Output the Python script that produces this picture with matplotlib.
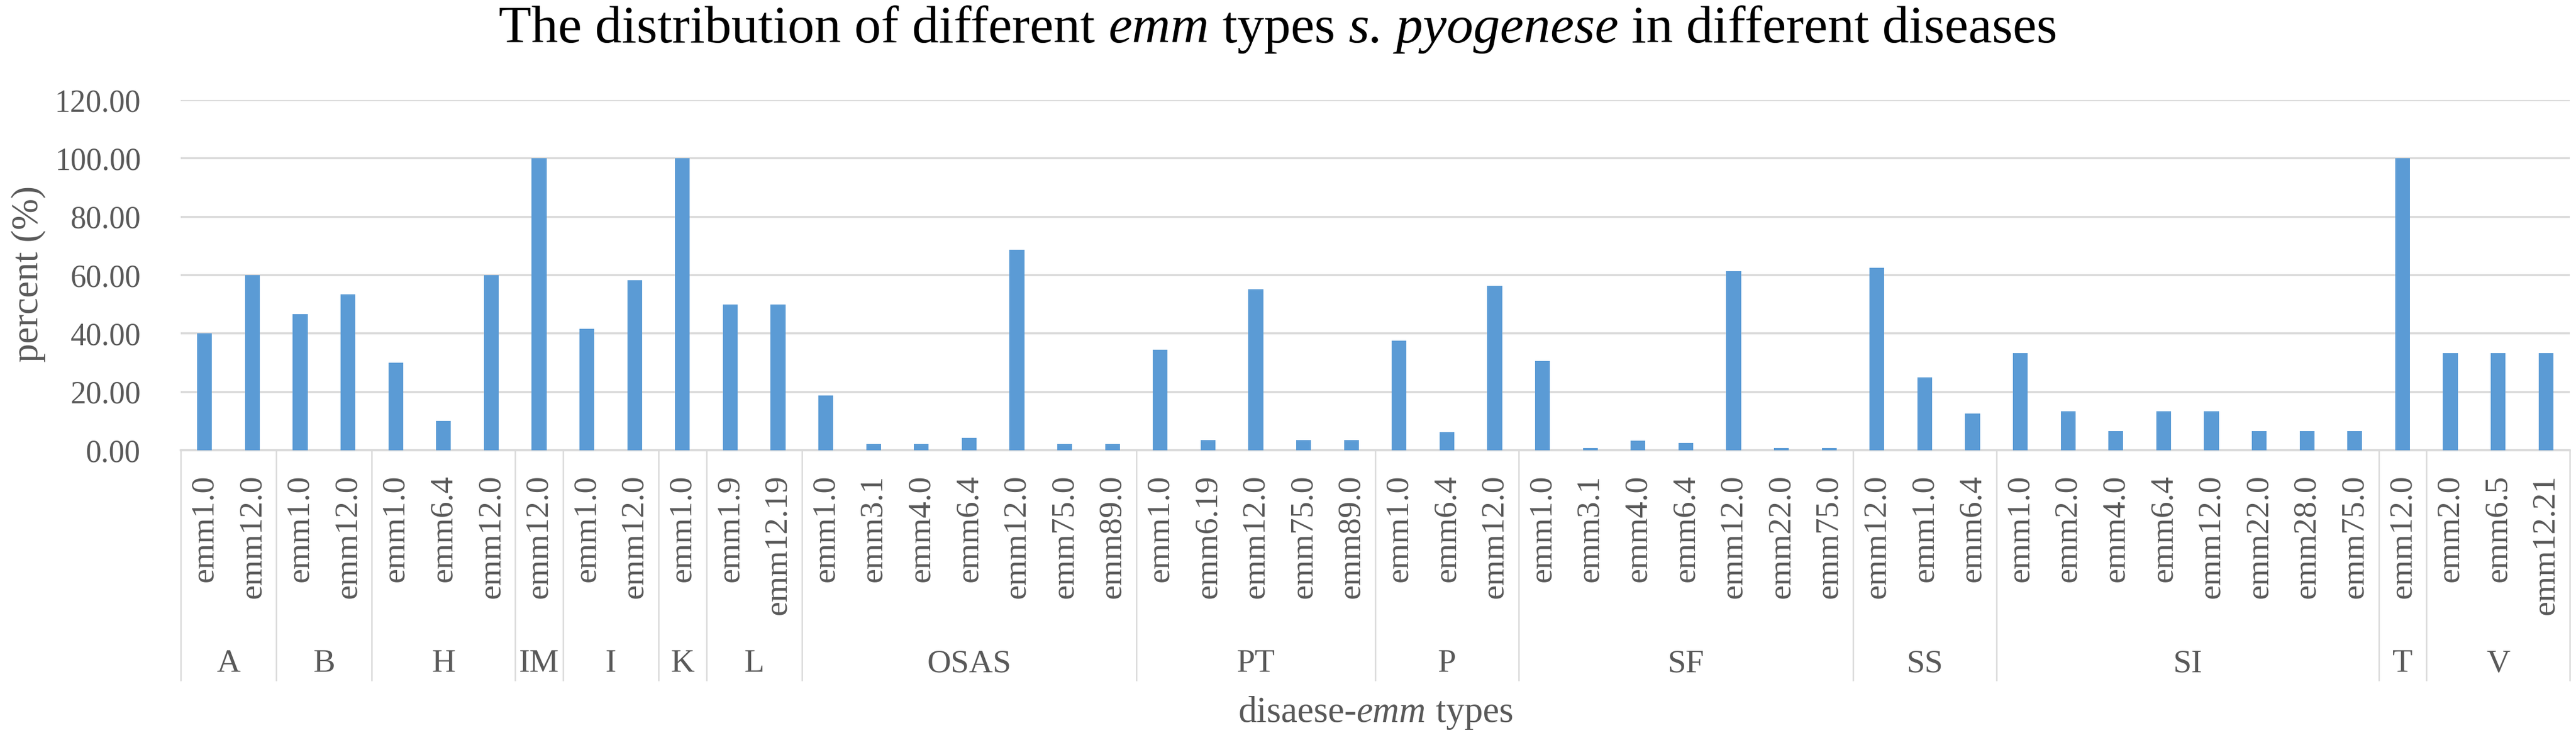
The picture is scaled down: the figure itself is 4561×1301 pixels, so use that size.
import matplotlib
matplotlib.use("Agg")
import matplotlib.pyplot as plt
import matplotlib.transforms as mtransforms

# ---------------- data ----------------
diseases = ['A', 'B', 'H', 'IM', 'I', 'K', 'L', 'OSAS', 'PT', 'P', 'SF', 'SS', 'SI', 'T', 'V']
emm_A = ['emm1.0', 'emm12.0']
emm_B = ['emm1.0', 'emm12.0']
emm_H = ['emm1.0', 'emm6.4', 'emm12.0']
emm_IM = ['emm12.0']
emm_I = ['emm1.0', 'emm12.0']
emm_K = ['emm1.0']
emm_L = ['emm1.9', 'emm12.19']
emm_OSAS = ['emm1.0', 'emm3.1', 'emm4.0', 'emm6.4', 'emm12.0', 'emm75.0', 'emm89.0']
emm_PT = ['emm1.0', 'emm6.19', 'emm12.0', 'emm75.0', 'emm89.0']
emm_P = ['emm1.0', 'emm6.4', 'emm12.0']
emm_SF = ['emm1.0', 'emm3.1', 'emm4.0', 'emm6.4', 'emm12.0', 'emm22.0', 'emm75.0']
emm_SS = ['emm12.0', 'emm1.0', 'emm6.4']
emm_SI = ['emm1.0', 'emm2.0', 'emm4.0', 'emm6.4', 'emm12.0', 'emm22.0', 'emm28.0', 'emm75.0']
emm_T = ['emm12.0']
emm_V = ['emm2.0', 'emm6.5', 'emm12.21']

pct_A = [40.00, 60.00]
pct_B = [46.67, 53.33]
pct_H = [30.00, 10.00, 60.00]
pct_IM = [100.00]
pct_I = [41.67, 58.33]
pct_K = [100.00]
pct_L = [50.00, 50.00]
pct_OSAS = [18.75, 2.08, 2.08, 4.17, 68.75, 2.08, 2.08]
pct_PT = [34.48, 3.45, 55.17, 3.45, 3.45]
pct_P = [37.50, 6.25, 56.25]
pct_SF = [30.65, 0.81, 3.23, 2.42, 61.29, 0.81, 0.81]
pct_SS = [62.50, 25.00, 12.50]
pct_SI = [33.33, 13.33, 6.67, 13.33, 13.33, 6.67, 6.67, 6.67]
pct_T = [100.00]
pct_V = [33.33, 33.33, 33.33]

yticks = [0, 20, 40, 60, 80, 100, 120]

title_parts = [("The distribution of different ", 'normal'), ("emm", 'italic'),
               (" types ", 'normal'), ("s. pyogenese", 'italic'),
               (" in different diseases", 'normal')]
xlabel_parts = [("disaese-", 'normal'), ("emm", 'italic'), (" types", 'normal')]
ylabel_text = "percent (%)"

emm_groups = [emm_A, emm_B, emm_H, emm_IM, emm_I, emm_K, emm_L, emm_OSAS,
              emm_PT, emm_P, emm_SF, emm_SS, emm_SI, emm_T, emm_V]
pct_groups = [pct_A, pct_B, pct_H, pct_IM, pct_I, pct_K, pct_L, pct_OSAS,
              pct_PT, pct_P, pct_SF, pct_SS, pct_SI, pct_T, pct_V]

labels = [e for g in emm_groups for e in g]
values = [v for g in pct_groups for v in g]
xpos = list(range(len(labels)))

# ---------------- style ----------------
plt.rcParams['font.family'] = ['Liberation Serif', 'DejaVu Serif']

W, H = 4561, 1301
DPI = 100
fig = plt.figure(figsize=(W / DPI, H / DPI), dpi=DPI)
fig.patch.set_facecolor('white')

y0_px, y120_px = 797, 177
left_px, right_px = 320, 4550
ax = fig.add_axes([left_px / W, 1 - y0_px / H, (right_px - left_px) / W, (y0_px - y120_px) / H])

bar_color = '#5B9BD5'
grid_color = '#D9D9D9'
text_gray = '#595959'

ax.bar(xpos, values, width=0.31, color=bar_color, zorder=3)
ax.set_xlim(-0.5, len(labels) - 0.5)
ax.set_ylim(0, 120)
ax.set_yticks(yticks)
ax.set_yticklabels([f"{t:.2f}" for t in yticks])
ax.yaxis.grid(True, color=grid_color, linewidth=2.6, zorder=0)
ax.set_axisbelow(True)
for s in ['top', 'right', 'left']:
    ax.spines[s].set_visible(False)
ax.spines['bottom'].set_color(grid_color)
ax.spines['bottom'].set_linewidth(2.6)

ax.set_xticks(xpos)
ax.set_xticklabels(labels, rotation=90)
ax.tick_params(axis='x', length=0, pad=31, labelsize=42, labelcolor=text_gray)
ax.tick_params(axis='y', length=0, pad=51, labelsize=40, labelcolor=text_gray)

# group separators and group labels
trans = mtransforms.blended_transform_factory(ax.transData, ax.transAxes)
sep_bottom = (y0_px - 1204) / (y0_px - y120_px)
group_label_y = (y0_px - 1189) / (y0_px - y120_px)
start = 0
bounds = [-0.5]
for name, g in zip(diseases, emm_groups):
    n = len(g)
    center = start + (n - 1) / 2
    ax.text(center, group_label_y, name, transform=trans, ha='center', va='baseline',
            fontsize=42, color=text_gray)
    start += n
    bounds.append(start - 0.5)
for b in bounds:
    ax.plot([b, b], [0, sep_bottom], transform=trans, color=grid_color, linewidth=1.8,
            clip_on=False, zorder=1)

# mixed-style text helper (centered at x_center_px, baseline at y_px)
renderer = fig.canvas.get_renderer()


def mixed_text(parts, x_center_px, y_base_px, size, color):
    texts = []
    widths = []
    for s, style in parts:
        t = fig.text(0, 1 - y_base_px / H, s, fontsize=size, style=style, color=color,
                     ha='left', va='baseline')
        w, h, d = renderer.get_text_width_height_descent(
            s, t.get_fontproperties(), ismath=False)
        texts.append(t)
        widths.append(w)
    total = sum(widths)
    x = x_center_px - total / 2
    for t, w in zip(texts, widths):
        t.set_x(x / W)
        x += w


mixed_text(title_parts, 2263, 75, 68, 'black')
mixed_text(xlabel_parts, 2436, 1278, 47, text_gray)
fig.text(50 / W, 1 - 485 / H, ylabel_text, rotation=90, ha='center', va='center',
         fontsize=48, color=text_gray)

fig.savefig("out.png", dpi=DPI, facecolor='white')
